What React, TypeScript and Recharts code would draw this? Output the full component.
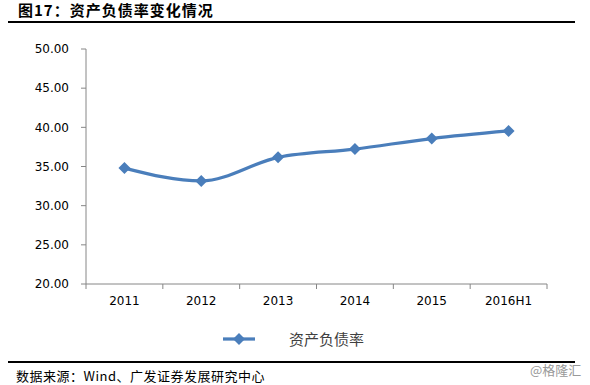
import { LineChart, Line, XAxis, YAxis } from "recharts";

const years = ["2011", "2012", "2013", "2014", "2015", "2016H1"];
const debtRatio = [34.8, 33.15, 36.17, 37.23, 38.57, 39.54];
const yTicks = [20, 25, 30, 35, 40, 45, 50];

const SERIES_NAME = "资产负债率";
const LINE_COLOR = "#4A7EBB";
const AXIS_COLOR = "#868686";
const CJK = '"Noto Sans CJK SC", "Noto Sans", sans-serif';

const data = years.map((year, i) => ({ year, value: debtRatio[i] }));

function Diamond(props: any) {
  const { cx, cy } = props;
  if (cx == null || cy == null) return null;
  const r = 6;
  return (
    <polygon
      points={`${cx},${cy - r} ${cx + r},${cy} ${cx},${cy + r} ${cx - r},${cy}`}
      fill={LINE_COLOR}
    />
  );
}

// category labels, with the tick marks set on the band edges like Excel
function YearTick(props: any) {
  const { x, y, payload, index, visibleTicksCount, width } = props;
  const half = payload?.offset || width / years.length / 2;
  const last = index === visibleTicksCount - 1;
  return (
    <g>
      <line x1={x - half} x2={x - half} y1={y} y2={y + 5} stroke={AXIS_COLOR} />
      {last && <line x1={x + half} x2={x + half} y1={y} y2={y + 5} stroke={AXIS_COLOR} />}
      <text
        x={x}
        y={y + 21}
        textAnchor="middle"
        fontSize={12}
        fontFamily="DejaVu Sans"
        fill="#000"
      >
        {payload.value}
      </text>
    </g>
  );
}

export default function App() {
  return (
    <div
      style={{
        position: "absolute",
        left: 0,
        top: 0,
        width: 590,
        height: 385,
        background: "#fff",
        overflow: "hidden",
        fontFamily: CJK,
      }}
    >
      <div
        style={{
          position: "absolute",
          left: 18,
          top: 2,
          fontSize: 15,
          lineHeight: "15px",
          fontWeight: 700,
          letterSpacing: 1,
          color: "#000",
          whiteSpace: "nowrap",
        }}
      >
        图17：资产负债率变化情况
      </div>
      <div style={{ position: "absolute", left: 8, top: 21, width: 567, height: 2, background: "#000" }} />

      <div style={{ position: "absolute", left: 0, top: 0 }}>
        <LineChart
          width={590}
          height={385}
          data={data}
          margin={{ top: 49, right: 43, bottom: 71, left: 8 }}
        >
          <XAxis
            dataKey="year"
            scale="band"
            interval={0}
            tickLine={false}
            tickSize={0}
            tickMargin={0}
            height={30}
            axisLine={{ stroke: AXIS_COLOR }}
            tick={<YearTick />}
          />
          <YAxis
            domain={[20, 50]}
            ticks={yTicks}
            width={78}
            tickSize={5}
            tickMargin={12}
            tickFormatter={(v: number) => v.toFixed(2)}
            axisLine={{ stroke: AXIS_COLOR }}
            tickLine={{ stroke: AXIS_COLOR }}
            tick={{ fontSize: 12, fontFamily: "DejaVu Sans", fill: "#000" }}
          />
          <Line
            type="monotone"
            dataKey="value"
            name={SERIES_NAME}
            stroke={LINE_COLOR}
            strokeWidth={3.25}
            dot={<Diamond />}
            activeDot={false}
            isAnimationActive={false}
          />
        </LineChart>
      </div>

      <svg style={{ position: "absolute", left: 220, top: 329 }} width={40} height={20}>
        <line x1={3} x2={35} y1={10} y2={10} stroke={LINE_COLOR} strokeWidth={3.25} />
        <polygon points="19,4 25,10 19,16 13,10" fill={LINE_COLOR} />
      </svg>
      <div
        style={{
          position: "absolute",
          left: 289,
          top: 331,
          fontSize: 15,
          lineHeight: "16px",
          color: "#404040",
          whiteSpace: "nowrap",
        }}
      >
        {SERIES_NAME}
      </div>

      <div style={{ position: "absolute", left: 8, top: 361, width: 567, height: 2, background: "#000" }} />
      <div
        style={{
          position: "absolute",
          left: 16,
          top: 369,
          fontSize: 13,
          lineHeight: "14px",
          letterSpacing: 0.5,
          color: "#000",
          whiteSpace: "nowrap",
        }}
      >
        数据来源：Wind、广发证券发展研究中心
      </div>
      <div
        style={{
          position: "absolute",
          left: 530,
          top: 363,
          fontSize: 13,
          lineHeight: "14px",
          color: "#999",
          whiteSpace: "nowrap",
        }}
      >
        @格隆汇
      </div>
    </div>
  );
}
